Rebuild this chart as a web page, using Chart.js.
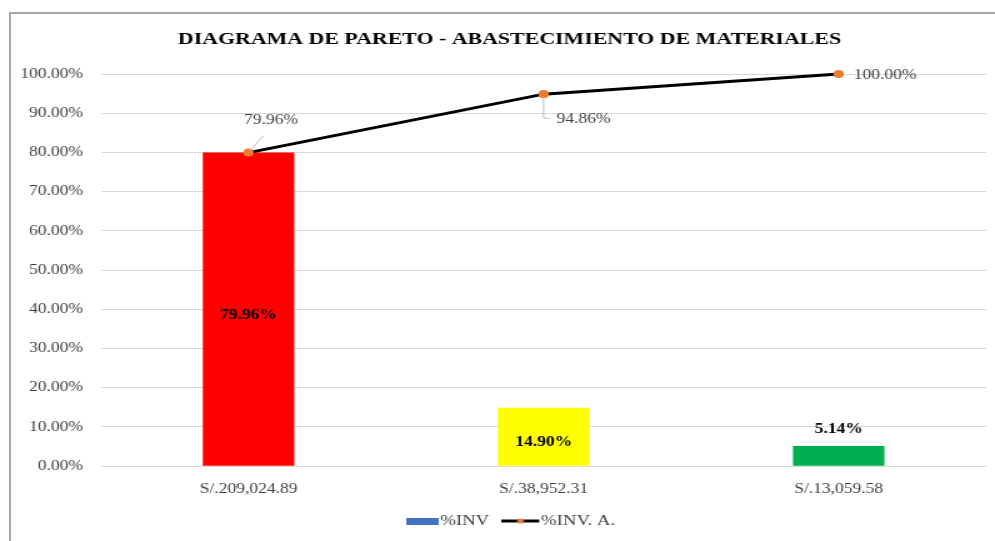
<!DOCTYPE html>
<html>
<head>
<meta charset="utf-8">
<script src="https://cdn.jsdelivr.net/npm/chart.js@4"></script>
<style>
  html, body { margin: 0; padding: 0; background: #fff; }
  #wrap { position: relative; width: 995px; height: 541px; overflow: hidden; }
  #frame { position: absolute; left: 9px; top: 12px; width: 1000px; height: 600px;
           border-left: 2px solid #a6a6a6; border-top: 2px solid #a6a6a6; box-sizing: border-box; }
  /* the drawing is laid out on a narrower canvas and widened to the page */
  #c { position: absolute; left: 0; top: 0; transform: scaleX(1.25); transform-origin: 0 0; }
</style>
</head>
<body>
<div id="wrap">
  <div id="frame"></div>
  <canvas id="c" width="796" height="541"></canvas>
</div>
<script>
// Supply categories (inventory value) and their share of the total
const categories = ['S/.209,024.89', 'S/.38,952.31', 'S/.13,059.58'];
const pctInv = [79.96, 14.90, 5.14];
const pctAcum = [79.96, 94.86, 100.00];
const barColors = ['#FF0000', '#FFFF00', '#00B050'];
const yTicks = [0, 10, 20, 30, 40, 50, 60, 70, 80, 90, 100];

const SERIF = '"Liberation Serif", "Times New Roman", serif';

// Legend swatches: blue box, and black line with an orange marker
function swatchBox() {
  const c = document.createElement('canvas');
  c.width = 26; c.height = 7;
  const g = c.getContext('2d');
  g.fillStyle = '#4472C4';
  g.fillRect(0, 0, 26, 7);
  return c;
}
function swatchLine() {
  const c = document.createElement('canvas');
  c.width = 34; c.height = 8;
  const g = c.getContext('2d');
  g.strokeStyle = '#000';
  g.lineWidth = 3;
  g.beginPath(); g.moveTo(0, 4); g.lineTo(30, 4); g.stroke();
  g.fillStyle = '#ED7D31';
  g.beginPath(); g.arc(15, 4, 2.6, 0, Math.PI * 2); g.fill();
  return c;
}

// Place title and legend blocks
const blockPlacement = {
  id: 'blockPlacement',
  afterLayout(chart) {
    const t = chart.titleBlock;
    if (t) { t.left += 7.6; t.right += 7.6; }
    const lg = chart.legend;
    if (lg && lg.lineWidths) {
      const pad = lg.options.labels.padding;
      const start = (lg.left + pad + lg.right - lg.lineWidths[0]) / 2;
      const dx = 330.7 - start;
      lg.left += dx; lg.right += dx;
      const h = lg.bottom - lg.top;
      lg.top = 493.5; lg.bottom = lg.top + h;
    }
  }
};

// Value labels for bars and the cumulative line
const valueLabels = {
  id: 'valueLabels',
  afterDatasetsDraw(chart) {
    const ctx = chart.ctx;
    ctx.save();
    const barMeta = chart.getDatasetMeta(0);
    ctx.font = 'bold 14px ' + SERIF;
    ctx.fillStyle = '#000';
    ctx.textAlign = 'center';
    ctx.textBaseline = 'middle';
    barMeta.data.forEach((bar, i) => {
      const txt = pctInv[i].toFixed(2) + '%';
      const h = bar.base - bar.y;
      if (h > 28) {
        ctx.fillText(txt, bar.x, (bar.y + bar.base) / 2 + 6);
      } else {
        ctx.fillText(txt, bar.x, bar.y - 17);
      }
    });
    const pts = chart.getDatasetMeta(1).data;
    const txt = i => pctAcum[i].toFixed(2) + '%';
    ctx.font = '14px ' + SERIF;
    ctx.fillStyle = '#404040';
    ctx.strokeStyle = '#bfbfbf';
    ctx.lineWidth = 1;
    // first point: label above-right with a short leader
    ctx.beginPath();
    ctx.moveTo(pts[0].x + 1, pts[0].y - 2);
    ctx.lineTo(pts[0].x + 12, pts[0].y - 17);
    ctx.stroke();
    ctx.textAlign = 'center';
    ctx.fillText(txt(0), pts[0].x + 18, pts[0].y - 32);
    // second point: label below-right with an elbow leader
    ctx.beginPath();
    ctx.moveTo(pts[1].x, pts[1].y + 3);
    ctx.lineTo(pts[1].x, pts[1].y + 24);
    ctx.lineTo(pts[1].x + 5, pts[1].y + 24);
    ctx.stroke();
    ctx.textAlign = 'left';
    ctx.fillText(txt(1), pts[1].x + 10.4, pts[1].y + 25);
    // last point: label to the right
    ctx.fillText(txt(2), pts[2].x + 12, pts[2].y + 1);
    ctx.restore();
  }
};

new Chart(document.getElementById('c'), {
  data: {
    labels: categories,
    datasets: [
      {
        type: 'bar',
        label: '%INV',
        data: pctInv,
        backgroundColor: barColors,
        categoryPercentage: 1,
        barPercentage: 0.31,
        order: 2
      },
      {
        type: 'line',
        label: '%INV. A.',
        data: pctAcum,
        borderColor: '#000',
        borderWidth: 3,
        pointBackgroundColor: '#ED7D31',
        pointBorderColor: '#ED7D31',
        pointRadius: 2.6,
        tension: 0,
        clip: false,
        order: 1
      }
    ]
  },
  options: {
    responsive: false,
    animation: false,
    devicePixelRatio: 1,
    layout: { padding: { left: 8.8, right: 4.8, top: 0, bottom: -17 } },
    scales: {
      x: {
        grid: { display: false, drawTicks: false },
        border: { display: false },
        ticks: { color: '#404040', font: { family: SERIF, size: 14 }, padding: 15 }
      },
      y: {
        min: 0, max: 100,
        afterFit(s) { s.width = 72; },
        afterBuildTicks(s) { s.ticks = yTicks.map(v => ({ value: v })); },
        grid: { color: '#d9d9d9', lineWidth: 1, drawTicks: false },
        border: { display: false },
        ticks: {
          color: '#404040',
          font: { family: SERIF, size: 14 },
          padding: 14.4,
          callback: v => v.toFixed(2) + '%'
        }
      }
    },
    plugins: {
      title: {
        display: true,
        text: 'DIAGRAMA DE PARETO - ABASTECIMIENTO DE MATERIALES',
        color: '#000',
        font: { family: SERIF, size: 17.5, weight: 'bold' },
        padding: { top: 28.5, bottom: 24.5 }
      },
      legend: {
        position: 'bottom',
        labels: {
          usePointStyle: true,
          pointStyleWidth: 14,
          color: '#404040',
          font: { family: SERIF, size: 15 },
          padding: 20,
          generateLabels() {
            return [
              { text: '%INV', pointStyle: swatchBox(), fillStyle: '#4472C4', strokeStyle: '#4472C4', lineWidth: 0, datasetIndex: 0, fontColor: '#404040' },
              { text: '%INV. A.', pointStyle: swatchLine(), fillStyle: '#000', strokeStyle: '#000', lineWidth: 0, datasetIndex: 1, fontColor: '#404040' }
            ];
          }
        }
      },
      tooltip: { enabled: false }
    }
  },
  plugins: [blockPlacement, valueLabels]
});
</script>
</body>
</html>
